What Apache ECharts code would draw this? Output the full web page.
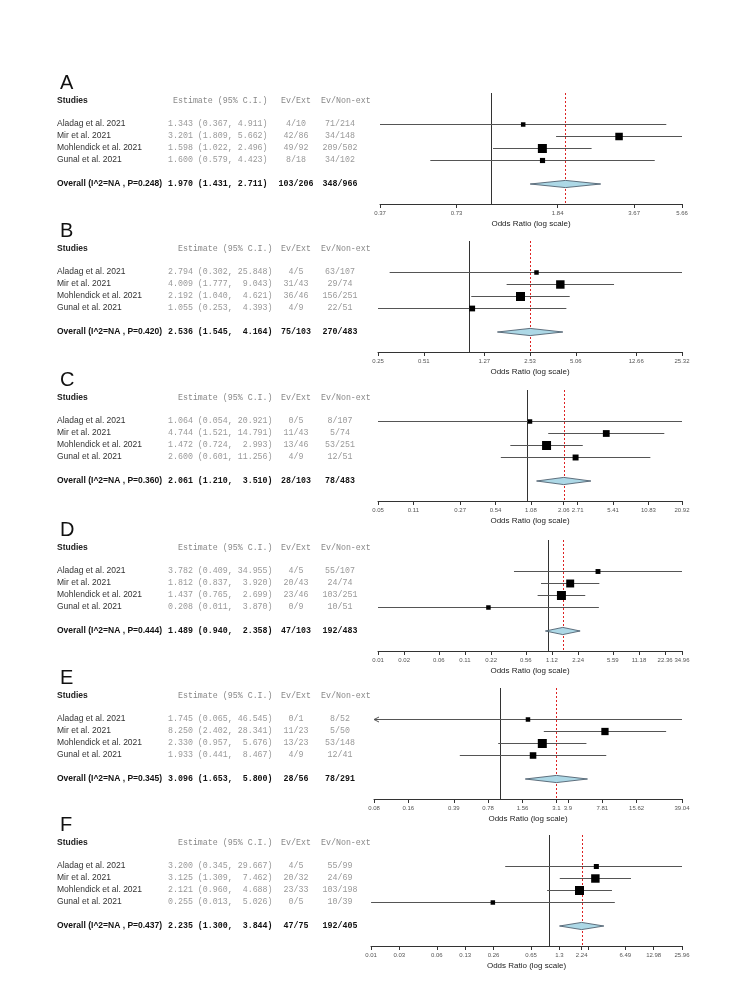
<!DOCTYPE html>
<html><head><meta charset="utf-8">
<script src="https://cdn.jsdelivr.net/npm/echarts@6/dist/echarts.min.js"></script>
<style>html,body{margin:0;padding:0;background:#fff}#c{width:756px;height:983px}</style>
</head><body><div id="c"></div>
<script>
// ---------------- DATA ----------------
const panelLetters = ["A", "B", "C", "D", "E", "F"];
const studies = ["Aladag et al. 2021", "Mir et al. 2021", "Mohlendick et al. 2021", "Gunal et al. 2021"];

const estA = [1.343, 3.201, 1.598, 1.600];
const loA  = [0.367, 1.809, 1.022, 0.579];
const hiA  = [4.911, 5.662, 2.496, 4.423];
const evExtA = ["4/10", "42/86", "49/92", "8/18"];
const evNonA = ["71/214", "34/148", "209/502", "34/102"];
const overallA = [1.970, 1.431, 2.711];
const overallEvA = ["103/206", "348/966"];
const pA = "0.248";
const ticksA = [0.367, 0.734, 1.835, 3.67, 5.662];
const tickLabelsA = ["0.37", "0.73", "1.84", "3.67", "5.66"];

const estB = [2.794, 4.009, 2.192, 1.055];
const loB  = [0.302, 1.777, 1.040, 0.253];
const hiB  = [25.848, 9.043, 4.621, 4.393];
const evExtB = ["4/5", "31/43", "36/46", "4/9"];
const evNonB = ["63/107", "29/74", "156/251", "22/51"];
const overallB = [2.536, 1.545, 4.164];
const overallEvB = ["75/103", "270/483"];
const pB = "0.420";
const ticksB = [0.2532, 0.5064, 1.266, 2.532, 5.064, 12.66, 25.32];
const tickLabelsB = ["0.25", "0.51", "1.27", "2.53", "5.06", "12.66", "25.32"];

const estC = [1.064, 4.744, 1.472, 2.600];
const loC  = [0.054, 1.521, 0.724, 0.601];
const hiC  = [20.921, 14.791, 2.993, 11.256];
const evExtC = ["0/5", "11/43", "13/46", "4/9"];
const evNonC = ["8/107", "5/74", "53/251", "12/51"];
const overallC = [2.061, 1.210, 3.510];
const overallEvC = ["28/103", "78/483"];
const pC = "0.360";
const ticksC = [0.05414, 0.10828, 0.2707, 0.5414, 1.0828, 2.061, 2.707, 5.414, 10.828, 20.921];
const tickLabelsC = ["0.05", "0.11", "0.27", "0.54", "1.08", "2.06", "2.71", "5.41", "10.83", "20.92"];

const estD = [3.782, 1.812, 1.437, 0.208];
const loD  = [0.409, 0.837, 0.765, 0.011];
const hiD  = [34.955, 3.920, 2.699, 3.870];
const evExtD = ["4/5", "20/43", "23/46", "0/9"];
const evNonD = ["55/107", "24/74", "103/251", "10/51"];
const overallD = [1.489, 0.940, 2.358];
const overallEvD = ["47/103", "192/483"];
const pD = "0.444";
const ticksD = [0.01118, 0.02236, 0.0559, 0.1118, 0.2236, 0.559, 1.118, 2.236, 5.59, 11.18, 22.36, 34.96];
const tickLabelsD = ["0.01", "0.02", "0.06", "0.11", "0.22", "0.56", "1.12", "2.24", "5.59", "11.18", "22.36", "34.96"];

const estE = [1.745, 8.250, 2.330, 1.933];
const loE  = [0.065, 2.402, 0.957, 0.441];
const hiE  = [46.545, 28.341, 5.676, 8.467];
const evExtE = ["0/1", "11/23", "13/23", "4/9"];
const evNonE = ["8/52", "5/50", "53/148", "12/41"];
const overallE = [3.096, 1.653, 5.800];
const overallEvE = ["28/56", "78/291"];
const pE = "0.345";
const ticksE = [0.07808, 0.15616, 0.3904, 0.7808, 1.5616, 3.096, 3.904, 7.808, 15.616, 39.04];
const tickLabelsE = ["0.08", "0.16", "0.39", "0.78", "1.56", "3.1", "3.9", "7.81", "15.62", "39.04"];

const estF = [3.200, 3.125, 2.121, 0.255];
const loF  = [0.345, 1.309, 0.960, 0.013];
const hiF  = [29.667, 7.462, 4.688, 5.026];
const evExtF = ["4/5", "20/32", "23/33", "0/5"];
const evNonF = ["55/99", "24/69", "103/198", "10/39"];
const overallF = [2.235, 1.300, 3.844];
const overallEvF = ["47/75", "192/405"];
const pF = "0.437";
const ticksF = [0.01298, 0.02596, 0.0649, 0.1298, 0.2596, 0.649, 1.298, 2.235, 2.596, 6.49, 12.98, 25.96];
const tickLabelsF = ["0.01", "0.03", "0.06", "0.13", "0.26", "0.65", "1.3", "2.24", "", "6.49", "12.98", "25.96"];

const panels = [
  {est: estA, lo: loA, hi: hiA, evExt: evExtA, evNon: evNonA, overall: overallA, overallEv: overallEvA, p: pA, ticks: ticksA, tickLabels: tickLabelsA},
  {est: estB, lo: loB, hi: hiB, evExt: evExtB, evNon: evNonB, overall: overallB, overallEv: overallEvB, p: pB, ticks: ticksB, tickLabels: tickLabelsB},
  {est: estC, lo: loC, hi: hiC, evExt: evExtC, evNon: evNonC, overall: overallC, overallEv: overallEvC, p: pC, ticks: ticksC, tickLabels: tickLabelsC},
  {est: estD, lo: loD, hi: hiD, evExt: evExtD, evNon: evNonD, overall: overallD, overallEv: overallEvD, p: pD, ticks: ticksD, tickLabels: tickLabelsD},
  {est: estE, lo: loE, hi: hiE, evExt: evExtE, evNon: evNonE, overall: overallE, overallEv: overallEvE, p: pE, ticks: ticksE, tickLabels: tickLabelsE},
  {est: estF, lo: loF, hi: hiF, evExt: evExtF, evNon: evNonF, overall: overallF, overallEv: overallEvF, p: pF, ticks: ticksF, tickLabels: tickLabelsF}
];

// ---------------- LAYOUT / STYLE ----------------
const rowTop = [124, 272, 421, 571, 719, 866];
const plotLeft = [380, 378, 378, 378, 374, 371];
const plotRight = 682;
const ROW = 12;
const yMin = 1 - 31 / ROW, yMax = 1 + 80 / ROW;
const headerRow = 1 - 23 / ROW;
const overallRow = 6;
const colName = 57, colEst = 168, colEvExt = 296, colEvNonHdr = 321, colEvNon = 340;
const SANS = '"Liberation Sans", Arial, sans-serif';
const MONO = '"Liberation Mono", "Courier New", monospace';
const fontSans = (w) => (w ? 'bold ' : '') + '8.5px ' + SANS;
const fontMono = (w) => (w ? 'bold ' : '') + '8.3px ' + MONO;

const grids = [], xAxes = [], yAxes = [], series = [], titles = [];

panels.forEach((p, k) => {
  const top = rowTop[k] - 31, height = 111;
  const gT = 2 * k, gP = 2 * k + 1;

  // table grid
  grids.push({left: 0, width: 756, top: top, height: height});
  xAxes.push({type: 'value', gridIndex: gT, min: 0, max: 756, show: false});
  yAxes.push({type: 'value', gridIndex: gT, min: yMin, max: yMax, inverse: true, show: false});

  // forest grid
  const lnT = p.ticks.map(Math.log);
  const xmin = lnT[0], xmax = lnT[lnT.length - 1];
  grids.push({left: plotLeft[k], width: plotRight - plotLeft[k], top: top, height: height});
  xAxes.push({
    type: 'value', gridIndex: gP, min: xmin, max: xmax,
    axisLine: {show: true, onZero: false, lineStyle: {color: '#333', width: 1}},
    axisTick: {show: true, customValues: lnT, length: 4, lineStyle: {color: '#333', width: 1}},
    axisLabel: {show: true, customValues: lnT, fontSize: 6, color: '#555', margin: 6, fontFamily: SANS,
      showMinLabel: true, showMaxLabel: true, hideOverlap: false,
      formatter: (v) => {
        let best = 0, d = Infinity;
        lnT.forEach((t, j) => { const dd = Math.abs(t - v); if (dd < d) { d = dd; best = j; } });
        return p.tickLabels[best];
      }},
    splitLine: {show: false},
    name: 'Odds Ratio (log scale)', nameLocation: 'middle', nameGap: 16,
    nameTextStyle: {fontSize: 8, color: '#222', fontFamily: SANS}
  });
  yAxes.push({type: 'value', gridIndex: gP, min: yMin, max: yMax, inverse: true, show: false});

  // panel letter
  titles.push({text: panelLetters[k], left: 60, top: rowTop[k] - 51, padding: 0,
    textStyle: {fontSize: 20, fontWeight: 'normal', color: '#111', fontFamily: SANS}});

  // ---- table texts ----
  const hiW = Math.max(...p.hi.map(v => v.toFixed(3).length), p.overall[2].toFixed(3).length);
  const estStr = (e, l, h) => e.toFixed(3) + ' (' + l.toFixed(3) + ', ' + h.toFixed(3).padStart(hiW) + ')';
  const estLen = estStr(p.est[0], p.lo[0], p.hi[0]).length;
  const hdrEst = 'Estimate (95% C.I.)'.padStart(estLen);
  const items = [];
  items.push({x: colName, y: headerRow, text: 'Studies', font: fontSans(true), fill: '#222', align: 'left'});
  items.push({x: colEst, y: headerRow, text: hdrEst, font: fontMono(false), fill: '#888', align: 'left'});
  items.push({x: colEvExt, y: headerRow, text: 'Ev/Ext', font: fontMono(false), fill: '#888', align: 'center'});
  items.push({x: colEvNonHdr, y: headerRow, text: 'Ev/Non-ext', font: fontMono(false), fill: '#888', align: 'left'});
  studies.forEach((s, i) => {
    const y = i + 1;
    items.push({x: colName, y, text: s, font: fontSans(false), fill: '#333', align: 'left'});
    items.push({x: colEst, y, text: estStr(p.est[i], p.lo[i], p.hi[i]), font: fontMono(false), fill: '#999', align: 'left'});
    items.push({x: colEvExt, y, text: p.evExt[i], font: fontMono(false), fill: '#999', align: 'center'});
    items.push({x: colEvNon, y, text: p.evNon[i], font: fontMono(false), fill: '#999', align: 'center'});
  });
  items.push({x: colName, y: overallRow, text: 'Overall (I^2=NA , P=' + p.p + ')', font: fontSans(true), fill: '#111', align: 'left'});
  items.push({x: colEst, y: overallRow, text: estStr(p.overall[0], p.overall[1], p.overall[2]), font: fontMono(true), fill: '#111', align: 'left'});
  items.push({x: colEvExt, y: overallRow, text: p.overallEv[0], font: fontMono(true), fill: '#111', align: 'center'});
  items.push({x: colEvNon, y: overallRow, text: p.overallEv[1], font: fontMono(true), fill: '#111', align: 'center'});

  series.push({
    type: 'custom', xAxisIndex: gT, yAxisIndex: gT, silent: true,
    data: items.map(it => [it.x, it.y]),
    renderItem: (params, api) => {
      const it = items[params.dataIndex];
      const c = api.coord([api.value(0), api.value(1)]);
      return {type: 'text', x: c[0], y: c[1],
        style: {text: it.text, font: it.font, fill: it.fill, align: it.align, textAlign: it.align,
          verticalAlign: 'middle', textVerticalAlign: 'middle'}};
    }
  });

  // ---- reference lines (OR = 1 solid, overall dashed red) ----
  series.push({
    type: 'custom', xAxisIndex: gP, yAxisIndex: gP, silent: true, z: 1,
    data: [[0, Math.log(p.overall[0])]],
    renderItem: (params, api) => {
      const cs = params.coordSys;
      const x1 = Math.round(api.coord([api.value(0), 1])[0]) + 0.5;
      const x2 = Math.round(api.coord([api.value(1), 1])[0]) + 0.5;
      return {type: 'group', children: [
        {type: 'line', shape: {x1: x1, y1: cs.y, x2: x1, y2: cs.y + cs.height}, style: {stroke: '#333', lineWidth: 1}},
        {type: 'line', shape: {x1: x2, y1: cs.y, x2: x2, y2: cs.y + cs.height}, style: {stroke: '#d22', lineWidth: 1, lineDash: [2, 2]}}
      ]};
    }
  });

  // ---- study CIs and squares ----
  const sq = p.lo.map((l, i) => { const se = (Math.log(p.hi[i]) - Math.log(l)) / 3.92; return Math.sqrt(1 / (se * se)); });
  const sMin = Math.min(...sq), sMax = Math.max(...sq);
  const sizes = sq.map(s => 4.5 + 4.5 * (s - sMin) / (sMax - sMin));
  series.push({
    type: 'custom', xAxisIndex: gP, yAxisIndex: gP, silent: true, z: 3,
    data: p.est.map((e, i) => [Math.log(e), Math.log(p.lo[i]), Math.log(p.hi[i]), i + 1]),
    renderItem: (params, api) => {
      const e = api.value(0), l = api.value(1), h = api.value(2), y = api.value(3);
      const lc = Math.max(l, xmin), hc = Math.min(h, xmax);
      const p1 = api.coord([lc, y]), p2 = api.coord([hc, y]), pe = api.coord([e, y]);
      const yy = Math.round(p1[1]) + 0.5;
      const sz = sizes[params.dataIndex];
      const ch = [
        {type: 'line', shape: {x1: p1[0], y1: yy, x2: p2[0], y2: yy}, style: {stroke: '#555', lineWidth: 1}},
        {type: 'rect', shape: {x: pe[0] - sz / 2, y: yy - sz / 2, width: sz, height: sz}, style: {fill: '#000'}}
      ];
      if (l < xmin - 0.05) {
        ch.push({type: 'polyline', shape: {points: [[p1[0] + 5, yy - 2.5], [p1[0], yy], [p1[0] + 5, yy + 2.5]]}, style: {stroke: '#555', lineWidth: 1, fill: null}});
      }
      return {type: 'group', children: ch};
    }
  });

  // ---- overall diamond ----
  series.push({
    type: 'custom', xAxisIndex: gP, yAxisIndex: gP, silent: true, z: 3,
    data: [[Math.log(p.overall[0]), Math.log(p.overall[1]), Math.log(p.overall[2]), overallRow]],
    renderItem: (params, api) => {
      const y = api.value(3);
      const pe = api.coord([api.value(0), y]), pl = api.coord([api.value(1), y]), ph = api.coord([api.value(2), y]);
      const hh = 3.6;
      return {type: 'polygon', shape: {points: [[pl[0], pe[1]], [pe[0], pe[1] - hh], [ph[0], pe[1]], [pe[0], pe[1] + hh]]},
        style: {fill: '#add8e6', stroke: '#3d4f5f', lineWidth: 0.8}};
    }
  });
});

const chart = echarts.init(document.getElementById('c'), null, {renderer: 'canvas'});
chart.setOption({
  animation: false,
  backgroundColor: '#fff',
  title: titles,
  grid: grids,
  xAxis: xAxes,
  yAxis: yAxes,
  series: series
});
</script>
</body></html>
